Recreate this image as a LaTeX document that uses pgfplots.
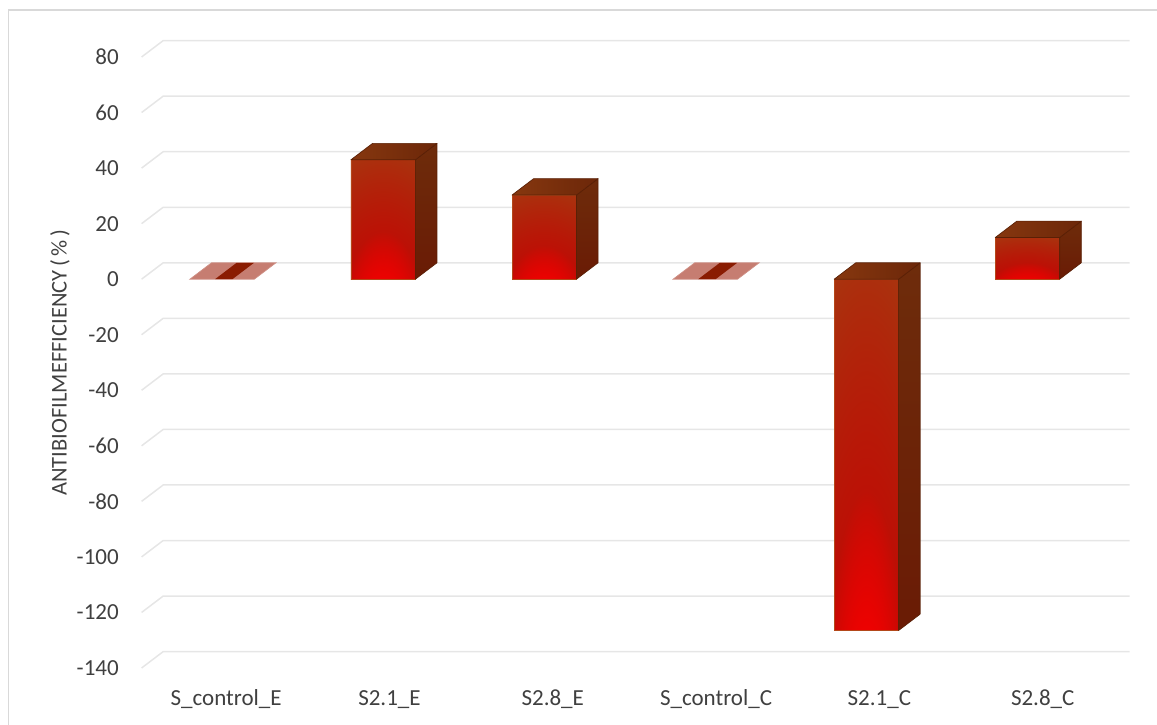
\documentclass[border=0pt]{standalone}
\usepackage{fontspec}
\setmainfont{Carlito}
\usepackage{pgfplots}
\pgfplotsset{compat=1.18}

\definecolor{gridgray}{HTML}{E6E6E6}
\definecolor{framegray}{HTML}{D9D9D9}
\definecolor{labelgray}{HTML}{404040}
\definecolor{topA}{HTML}{86370F}
\definecolor{topB}{HTML}{6C2709}
\definecolor{sideA}{HTML}{6E2C0B}
\definecolor{sideB}{HTML}{6A1B05}
\definecolor{frontEdge}{HTML}{B4481A}
\definecolor{darkEdge}{HTML}{5A2006}
\definecolor{flatPink}{HTML}{C67D71}
\definecolor{flatDark}{HTML}{8A1C02}

% front face: orange-brown at the top, deep red lower down,
% with a wide red halo and a bright red core at the base
\pgfdeclarefunctionalshading{frontglow}{\pgfpoint{-50bp}{-50bp}}{\pgfpoint{50bp}{50bp}}{}{
  50 add 100 div exch 50 div
  dup mul
  dup 1.44 div
  2 index dup mul 0.7225 div add
  sqrt 1 exch sub dup 0 lt {pop 0} if
  1 index 0.49 div
  3 index dup mul 0.2025 div add
  sqrt 1 exch sub dup 0 lt {pop 0} if
  dup 2 exch sub mul
  3 index -0.07 mul 0.71 add
  0.80 1 index sub 3 index mul add
  1 1 index sub 2 index mul add
  1 3 index sub 1 3 index sub mul
  5 index 0.25 mul 0.02 add 1 index mul
  6 index 0.05 mul 0.02 add 2 index mul
  3 -1 roll pop
  7 -4 roll pop pop pop pop
}

% side and top faces of a column; #1 category, #2 lower end, #3 upper end
\newcommand\cubefaces[3]{%
  \path[top color=sideA, bottom color=sideB, draw=darkEdge, line width=0.4pt, line join=round]
    ([shift={(axis direction cs:0.2,0)}]axis cs:#1,#2)
    -- ([shift={(axis direction cs:0.2,0)}]axis cs:#1,#3)
    -- ([shift={(axis direction cs:0.334,5.9)}]axis cs:#1,#3)
    -- ([shift={(axis direction cs:0.334,5.9)}]axis cs:#1,#2) -- cycle;
  \path[left color=topA, right color=topB, draw=darkEdge, line width=0.4pt, line join=round]
    ([shift={(axis direction cs:-0.2,0)}]axis cs:#1,#3)
    -- ([shift={(axis direction cs:0.2,0)}]axis cs:#1,#3)
    -- ([shift={(axis direction cs:0.334,5.9)}]axis cs:#1,#3)
    -- ([shift={(axis direction cs:-0.066,5.9)}]axis cs:#1,#3) -- cycle;
}
% a column of height zero shows only its lid
\newcommand\flatfaces[1]{%
  \path[fill=flatPink, draw=flatPink!85!white, line width=0.4pt]
    ([shift={(axis direction cs:-0.2,0)}]axis cs:#1,0)
    -- ([shift={(axis direction cs:0.2,0)}]axis cs:#1,0)
    -- ([shift={(axis direction cs:0.334,5.9)}]axis cs:#1,0)
    -- ([shift={(axis direction cs:-0.066,5.9)}]axis cs:#1,0) -- cycle;
  \path[fill=flatDark]
    ([shift={(axis direction cs:-0.044,0)}]axis cs:#1,0)
    -- ([shift={(axis direction cs:0.064,0)}]axis cs:#1,0)
    -- ([shift={(axis direction cs:0.198,5.9)}]axis cs:#1,0)
    -- ([shift={(axis direction cs:0.090,5.9)}]axis cs:#1,0) -- cycle;
}

\pgfplotsset{
  front/.style={ybar, bar width=0.4, bar shift=0pt, draw=frontEdge,
    line width=0.4pt, shade, shading=frontglow},
}

\begin{document}
\begin{tikzpicture}
\begin{axis}[
  scale only axis, width=579.84pt, height=366.6pt,
  xmin=-0.5, xmax=5.5, ymin=-140, ymax=80,
  clip=false,
  axis line style={draw=none},
  tick style={draw=none},
  xtick={0,...,5},
  xticklabels={S\_control\_E, S2.1\_E, S2.8\_E, S\_control\_C, S2.1\_C, S2.8\_C},
  ytick={-140,-120,...,80},
  /pgf/number format/assume math mode=true,
  tick label style={font=\fontsize{13.8}{15}\selectfont, text=labelgray},
  yticklabel style={inner sep=0pt, anchor=east},
  yticklabel shift=13.5pt,
  xticklabel style={inner sep=0pt, anchor=base, xshift={(2.4+1.35*\ticknum)*1pt}},
  xticklabel shift=22.2pt,
  ylabel={ANTIBIOFILMEFFICIENCY\,(\,\%\,)},
  every axis y label/.style={at={(axis description cs:0,0.5)}, xshift=-49pt,
    rotate=90, anchor=center, font=\fontsize{13.5}{15}\selectfont, text=labelgray},
]
% back wall grid, with the short receding edge on the left
\pgfplotsinvokeforeach{-140,-120,...,80}{
  \draw[gridgray, line width=0.9pt] (axis cs:-0.5,#1) -- ++(axis direction cs:0.134,5.9)
    -- ++(axis direction cs:6,0);
}

% S_control_E and S_control_C
\addplot[ybar, bar width=0.4, bar shift=0pt, draw=none, fill=none] coordinates {(0,0) (3,0)};
\flatfaces{0}
\flatfaces{3}

% S2.1_E
\addplot[front] coordinates {(1,43)};
\cubefaces{1}{0}{43}
% S2.8_E
\addplot[front] coordinates {(2,30.3)};
\cubefaces{2}{0}{30.3}
% S2.1_C
\addplot[front] coordinates {(4,-126.5)};
\cubefaces{4}{-126.5}{0}
% S2.8_C
\addplot[front] coordinates {(5,15)};
\cubefaces{5}{0}{15}
\end{axis}
% chart area frame
\draw[framegray, line width=0.7pt] (-79.92pt,-40pt) -- (-79.92pt,394.8pt) -- (620pt,394.8pt);
\pgfresetboundingbox
\path (-84.96pt,-33.6pt) rectangle (609.24pt,400.8pt);
\end{tikzpicture}
\end{document}
